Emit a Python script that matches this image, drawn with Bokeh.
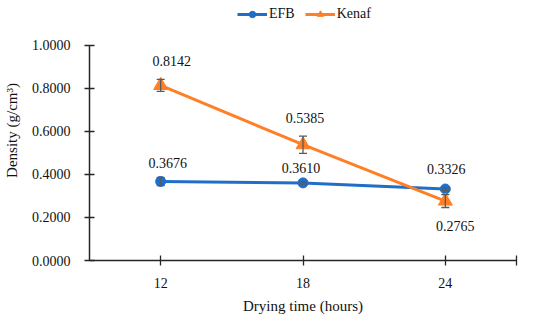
from bokeh.plotting import figure
from bokeh.models import (ColumnDataSource, Whisker, Legend, LegendItem,
                          FixedTicker, Range1d)
from bokeh.core.properties import value
from bokeh.embed import file_html
from bokeh.resources import INLINE

# ---- data ----
hours = [12, 18, 24]
efb = [0.3676, 0.3610, 0.3326]
efb_err = [0.019, 0.006, 0.006]
kenaf = [0.8142, 0.5385, 0.2765]
kenaf_err = [0.028, 0.040, 0.030]
efb_labels = ["0.3676", "0.3610", "0.3326"]
kenaf_labels = ["0.8142", "0.5385", "0.2765"]
y_ticks = [0, 0.2, 0.4, 0.6, 0.8, 1.0]

FONT = "Liberation Serif"
BLUE = "#1F6FC9"
ORANGE = "#FF7F27"
GREY = "#5A5A5A"

p = figure(width=536, height=318, output_backend="svg",
           toolbar_location=None,
           x_range=Range1d(9, 27), y_range=Range1d(0, 1.2093),
           min_border_left=75, min_border_right=20,
           min_border_top=0, min_border_bottom=58)
p.outline_line_color = None
p.grid.grid_line_color = None
p.background_fill_color = "white"

src_e = ColumnDataSource(dict(x=hours, y=efb,
                              lo=[v - e for v, e in zip(efb, efb_err)],
                              hi=[v + e for v, e in zip(efb, efb_err)],
                              lab=efb_labels,
                              xo=[7, -2, 1], yo=[-18, -15, -20]))
src_k = ColumnDataSource(dict(x=hours, y=kenaf,
                              lo=[v - e for v, e in zip(kenaf, kenaf_err)],
                              hi=[v + e for v, e in zip(kenaf, kenaf_err)],
                              lab=kenaf_labels,
                              xo=[11, 2, 10], yo=[-24, -27, 25]))

le = p.line("x", "y", source=src_e, line_color=BLUE, line_width=3)
se = p.scatter("x", "y", source=src_e, marker="circle", size=10,
               fill_color=BLUE, line_color=BLUE)
lk = p.line("x", "y", source=src_k, line_color=ORANGE, line_width=3)
sk = p.scatter("x", "y", source=src_k, marker="triangle", size=14,
               fill_color=ORANGE, line_color=ORANGE)

for src in (src_e, src_k):
    w = Whisker(source=src, base="x", lower="lo", upper="hi",
                line_color=GREY, line_width=1.3, level="overlay")
    w.upper_head.size = 8
    w.lower_head.size = 8
    w.upper_head.line_color = GREY
    w.lower_head.line_color = GREY
    w.upper_head.line_width = 1.3
    w.lower_head.line_width = 1.3
    p.add_layout(w)

for src in (src_e, src_k):
    p.text("x", "y", text="lab", source=src, x_offset="xo", y_offset="yo",
           text_align="center", text_baseline="middle",
           text_font=value(FONT), text_font_size="14px", text_color="#111111")

# axes
for ax in (p.xaxis[0], p.yaxis[0]):
    ax.axis_line_color = "#262626"
    ax.axis_line_width = 1.5
    ax.major_tick_line_color = "#262626"
    ax.major_tick_line_width = 1.3
    ax.major_tick_in = 5
    ax.major_tick_out = 5
    ax.minor_tick_line_color = None
    ax.major_label_text_font = FONT
    ax.major_label_text_font_size = "14px"
    ax.major_label_text_color = "#111111"
    ax.axis_label_text_font = FONT
    ax.axis_label_text_font_size = "15px"
    ax.axis_label_text_font_style = "normal"
    ax.axis_label_text_color = "#111111"

p.xaxis.ticker = FixedTicker(ticks=hours + [27])
p.xaxis.major_label_overrides = {27: ""}
p.xaxis.major_label_standoff = 12
p.xaxis.axis_label = "Drying time (hours)"
p.xaxis.axis_label_standoff = 7

p.yaxis.bounds = (0, 1.0)
p.yaxis.ticker = FixedTicker(ticks=y_ticks)
p.yaxis.major_label_overrides = {t: f"{t:.4f}" for t in y_ticks}
p.yaxis.major_label_standoff = 14
p.yaxis.axis_label = "Density (g/cm³)"
p.yaxis.axis_label_standoff = 9

legend = Legend(items=[LegendItem(label="EFB", renderers=[le, se]),
                       LegendItem(label="Kenaf", renderers=[lk, sk])],
                orientation="horizontal", location=(148, 238),
                label_text_font=FONT, label_text_font_size="14px",
                label_text_color="#111111",
                glyph_width=30, glyph_height=16, label_standoff=2,
                spacing=10, padding=0, margin=0,
                border_line_color=None, background_fill_alpha=0)
p.add_layout(legend, "center")

open("out.html", "w").write(file_html(p, INLINE))
